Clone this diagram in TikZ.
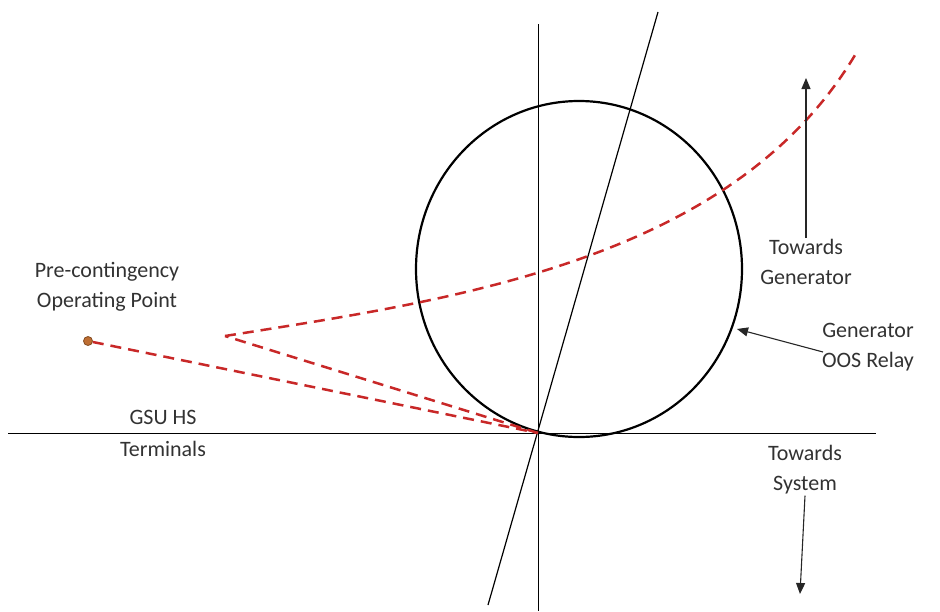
\documentclass[tikz,border=0pt]{standalone}
\usepackage{fontspec}
\setmainfont{Carlito}
\usetikzlibrary{arrows.meta}
\definecolor{redd}{RGB}{200,40,40}
\definecolor{dotc}{RGB}{190,110,50}
\definecolor{txt}{RGB}{50,50,50}
\begin{document}
\begin{tikzpicture}[x=1pt,y=-1pt,
  axis/.style={black,line width=1pt},
  relay/.style={black,line width=2.2pt},
  traj/.style={redd,dash pattern=on 11pt off 7pt,line width=2.5pt},
  arr/.style={-{Triangle[length=11pt,width=9pt]},black!85,line width=1.1pt},
  lbl/.style={text=txt,font=\fontsize{22}{30}\selectfont,align=center,inner sep=1pt}]
\useasboundingbox (0,0) rectangle (940,611);
% axes
\coordinate (vt) at (538,24);
\coordinate (vb) at (538,611);
\coordinate (hl) at (8,433);
\coordinate (hr) at (876,433);
\coordinate (o) at (538,433);
\coordinate (tt) at (658,12);
\coordinate (tb) at (488,605);
\draw[axis] (vt) -- (vb);
\draw[axis] (hl) -- (hr);
\draw[axis,line width=1.2pt] (tb) -- (tt);
% relay circle
\draw[relay] (579,269) ellipse [x radius=163, y radius=168];
% trajectory
\coordinate (pk) at (225,336);
\coordinate (pe) at (858,50);
\node[circle,fill=dotc,draw=dotc!70!black,line width=0.8pt,inner sep=0pt,minimum size=9pt] (dot) at (88,341) {};
\draw[traj] (dot) -- (o);
\draw[traj] (o) -- (pk);
\draw[traj] (pk) .. controls (450,300) and (735,262) .. (pe);
% labels
\node[lbl] (pre) at (107,287) {Pre-contingency\\Operating Point};
\node[lbl] (gsu) at (163,433) {GSU HS\\[2pt]Terminals};
\node[lbl] (tg) at (806,262) {Towards\\Generator};
\node[lbl] (tsys) at (805,470) {Towards\\System};
\node[lbl] (oos) at (868,347) {Generator\\OOS Relay};
% arrows
\coordinate (tgtip) at (806,78);
\coordinate (tstip) at (800,594);
\coordinate (relaytip) at (737,329);
\coordinate (oosT) at (823,352);
\draw[arr] (tg.north) -- (tgtip);
\draw[arr] (tsys.south) -- (tstip);
\draw[arr] (oosT) -- (relaytip);
\end{tikzpicture}
\end{document}
